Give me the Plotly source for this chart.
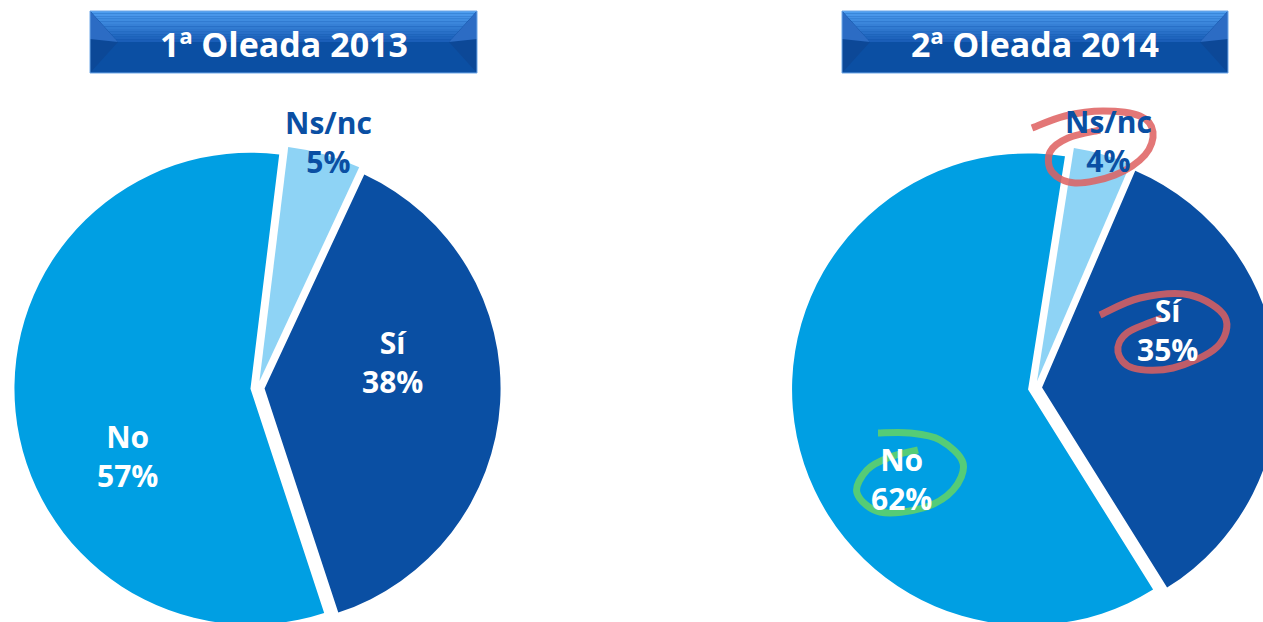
import plotly.graph_objects as go

# ---------------- data ----------------
titles = ["1ª Oleada 2013", "2ª Oleada 2014"]
labels = ["Ns/nc", "Sí", "No"]
values_2013 = [5, 38, 57]
values_2014 = [4, 35, 62]
colors = ["#8ED3F5", "#0A4FA3", "#009FE3"]
label_colors = ["#0A4FA3", "#FFFFFF", "#FFFFFF"]

# ---------------- geometry helpers (pixels -> paper) ----------------
W, H = 1290, 640


def px(x):
    return x / W


def py(y):
    return 1 - y / H


def pie_domain(cx, cy, half):
    return dict(x=[px(cx - half), px(cx + half)], y=[py(cy + half), py(cy - half)])


R = 236
PULL = 0.03
HALF = R * (1 + PULL)

fig = go.Figure()
fig.add_trace(go.Pie(
    labels=labels, values=values_2013, sort=False, direction="clockwise", rotation=7,
    pull=[PULL] * 3, marker=dict(colors=colors, line=dict(width=0)),
    textinfo="none", showlegend=False, domain=pie_domain(257.5, 388, HALF),
))
fig.add_trace(go.Pie(
    labels=labels, values=values_2014, sort=False, direction="clockwise", rotation=9,
    pull=[PULL] * 3, marker=dict(colors=colors, line=dict(width=0)),
    textinfo="none", showlegend=False, domain=pie_domain(1035, 388, HALF),
))

shapes = []
annotations = []

# ---------------- banners ----------------
def lerp(a, b, t):
    return a + (b - a) * t


def banner(x0, x1, y0, y1, text):
    ym = 42
    d = 28
    shapes.append(dict(type="rect", xref="paper", yref="paper", x0=px(x0), x1=px(x1),
                       y0=py(y1), y1=py(y0), fillcolor="#0B4FA3", line=dict(width=0), layer="above"))
    n = 12
    c0 = (80, 160, 242)
    c1 = (24, 92, 182)
    for i in range(n):
        ta, tb = i / n, (i + 1) / n
        ya, yb = lerp(y0, ym, ta), lerp(y0, ym, tb)
        ia, ib = d * ta, d * tb
        col = "rgb(%d,%d,%d)" % tuple(int(lerp(c0[k], c1[k], (ta + tb) / 2)) for k in range(3))
        path = "M %f,%f L %f,%f L %f,%f L %f,%f Z" % (
            px(x0 + ia), py(ya), px(x1 - ia), py(ya), px(x1 - ib), py(yb), px(x0 + ib), py(yb))
        shapes.append(dict(type="path", xref="paper", yref="paper", path=path,
                           fillcolor=col, line=dict(width=0), layer="above"))
    for (xa, xb) in [(x0, x0 + d), (x1, x1 - d)]:
        path = "M %f,%f L %f,%f L %f,%f Z" % (px(xa), py(y0), px(xb), py(ym), px(xa), py(y1))
        shapes.append(dict(type="path", xref="paper", yref="paper", path=path,
                           fillcolor="#0C4897", line=dict(width=0), layer="above"))
        path = "M %f,%f L %f,%f L %f,%f Z" % (px(xa), py(y0), px(xb), py(ym), px(xa), py(lerp(y0, ym, 0.9)))
        shapes.append(dict(type="path", xref="paper", yref="paper", path=path,
                           fillcolor="#2C6CC4", line=dict(width=0), layer="above"))
    shapes.append(dict(type="rect", xref="paper", yref="paper", x0=px(x0), x1=px(x1),
                       y0=py(y1), y1=py(y0), line=dict(width=1, color="#6FA8E8"), layer="above"))
    annotations.append(dict(x=px((x0 + x1) / 2), y=py(44), xref="paper", yref="paper",
                            text="<b>%s</b>" % text, showarrow=False, xanchor="center", yanchor="middle",
                            font=dict(family="Open Sans", size=34, color="white")))


banner(90, 477, 11, 73, titles[0])
banner(842, 1228, 11, 73, titles[1])

# ---------------- slice labels (label + value, two lines) ----------------
label_pos_2013 = [(328, 142), (393, 362), (127, 456)]
label_pos_2014 = [(1108, 141), (1167, 330), (901, 479)]

for vals, poss in [(values_2013, label_pos_2013), (values_2014, label_pos_2014)]:
    for lab, v, col, (x, y) in zip(labels, vals, label_colors, poss):
        annotations.append(dict(x=px(x), y=py(y), xref="paper", yref="paper",
                                text="<b>%s<br>%d%%</b>" % (lab, v), showarrow=False,
                                xanchor="center", yanchor="middle", align="center",
                                font=dict(family="Open Sans", size=30, color=col)))

# ---------------- hand-drawn circles ----------------
def smooth_path(pts):
    P = [(px(x), py(y)) for x, y in pts]
    s = "M %f,%f" % P[0]
    for i in range(len(P) - 1):
        p0 = P[i - 1] if i > 0 else P[i]
        p1 = P[i]
        p2 = P[i + 1]
        p3 = P[i + 2] if i + 2 < len(P) else P[i + 1]
        c1 = (p1[0] + (p2[0] - p0[0]) / 6, p1[1] + (p2[1] - p0[1]) / 6)
        c2 = (p2[0] - (p3[0] - p1[0]) / 6, p2[1] - (p3[1] - p1[1]) / 6)
        s += " C %f,%f %f,%f %f,%f" % (c1[0], c1[1], c2[0], c2[1], p2[0], p2[1])
    return s


loops = [
    ([(1032, 128), (1065, 116), (1103, 111), (1140, 116), (1153, 132), (1145, 155), (1115, 175),
      (1075, 183), (1052, 172), (1050, 152), (1068, 138), (1100, 130)], "rgba(222,95,95,0.85)"),
    ([(1100, 315), (1140, 298), (1190, 295), (1225, 317), (1217, 347), (1173, 368), (1133, 368),
      (1118, 352), (1127, 333), (1162, 318)], "rgba(222,95,95,0.85)"),
    ([(878, 433), (910, 433), (940, 440), (963, 463), (953, 490), (923, 508), (880, 512),
      (857, 493), (867, 470), (890, 457), (918, 450)], "rgba(100,212,100,0.85)"),
]
for pts, col in loops:
    shapes.append(dict(type="path", xref="paper", yref="paper", path=smooth_path(pts),
                       line=dict(color=col, width=7), layer="above"))

fig.update_layout(
    width=W, height=H, autosize=False,
    margin=dict(l=0, r=0, t=0, b=0),
    paper_bgcolor="white", plot_bgcolor="white",
    shapes=shapes, annotations=annotations,
)

fig.write_html("out.html", config={"displayModeBar": False},
               post_script="document.body.style.margin='0';document.body.style.overflow='hidden';")
